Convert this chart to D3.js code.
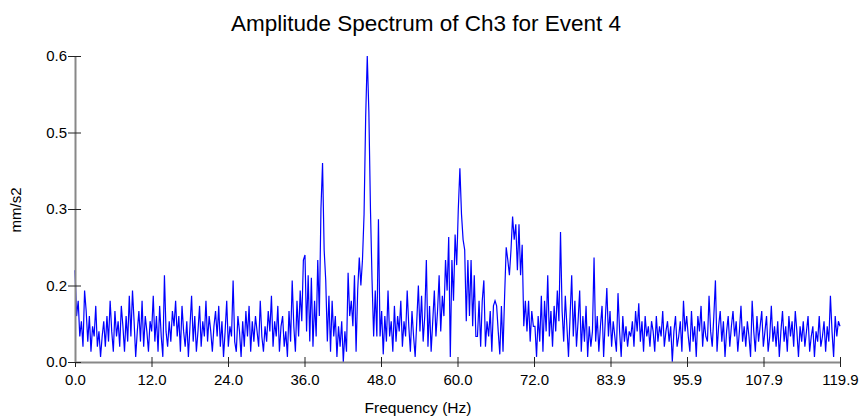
<!DOCTYPE html>
<html>
<head>
<meta charset="utf-8">
<script src="https://cdn.jsdelivr.net/npm/d3@7"></script>
<style>
  body { margin: 0; background: #fff; }
  text { font-family: "Liberation Sans", Arial, sans-serif; fill: #000; }
</style>
</head>
<body>
<div id="chart"></div>
<script>
// amplitude readings (mm/s2), one every ~0.25 Hz from 0 to 119.9 Hz
let amplitude = [
  // 0 - 12 Hz
  0.18, 0.09, 0.12, 0.05, 0.08, 0.03, 0.14, 0.10, 0.04, 0.09, 0.02, 0.07,
  0.05, 0.11, 0.03, 0.06, 0.01, 0.05, 0.08, 0.03, 0.09, 0.04, 0.12, 0.06,
  0.02, 0.10, 0.05, 0.08, 0.03, 0.11, 0.07, 0.02, 0.09, 0.04, 0.13, 0.05,
  0.14, 0.08, 0.01, 0.06, 0.10, 0.04, 0.12, 0.03, 0.09, 0.06, 0.02, 0.08,
  // 12 - 24 Hz
  0.06, 0.13, 0.04, 0.09, 0.02, 0.11, 0.05, 0.01, 0.17, 0.06, 0.03, 0.08,
  0.04, 0.10, 0.07, 0.12, 0.05, 0.09, 0.02, 0.11, 0.06, 0.03, 0.08, 0.01,
  0.07, 0.13, 0.04, 0.09, 0.02, 0.06, 0.11, 0.03, 0.08, 0.05, 0.12, 0.04,
  0.09, 0.06, 0.02, 0.07, 0.10, 0.05, 0.11, 0.03, 0.08, 0.01, 0.06, 0.12,
  // 24 - 36 Hz
  0.03, 0.07, 0.05, 0.16, 0.04, 0.02, 0.09, 0.06, 0.01, 0.08, 0.03, 0.10,
  0.05, 0.11, 0.02, 0.08, 0.04, 0.09, 0.06, 0.03, 0.12, 0.05, 0.02, 0.07,
  0.04, 0.10, 0.06, 0.13, 0.03, 0.08, 0.05, 0.11, 0.02, 0.07, 0.09, 0.03,
  0.06, 0.01, 0.10, 0.04, 0.16, 0.07, 0.02, 0.12, 0.05, 0.14, 0.08, 0.20,
  // 36 - 48 Hz
  0.21, 0.06, 0.17, 0.04, 0.165, 0.03, 0.12, 0.05, 0.20, 0.09, 0.30, 0.39,
  0.22, 0.16, 0.04, 0.13, 0.02, 0.12, 0.05, 0.09, 0.01, 0.07, 0.03, 0.08,
  0.00, 0.06, 0.02, 0.175, 0.09, 0.12, 0.07, 0.17, 0.02, 0.14, 0.205, 0.15,
  0.20, 0.29, 0.48, 0.60, 0.49, 0.30, 0.16, 0.05, 0.14, 0.05, 0.28, 0.05,
  // 48 - 60 Hz
  0.10, 0.015, 0.09, 0.04, 0.14, 0.05, 0.08, 0.02, 0.11, 0.04, 0.09, 0.06,
  0.12, 0.03, 0.08, 0.05, 0.14, 0.07, 0.02, 0.10, 0.05, 0.01, 0.08, 0.15,
  0.06, 0.13, 0.04, 0.09, 0.20, 0.03, 0.11, 0.02, 0.08, 0.14, 0.05, 0.10,
  0.17, 0.06, 0.13, 0.09, 0.20, 0.14, 0.245, 0.01, 0.20, 0.12, 0.25, 0.19,
  // 60 - 72 Hz
  0.30, 0.38, 0.29, 0.24, 0.22, 0.08, 0.20, 0.09, 0.20, 0.07, 0.17, 0.05,
  0.05, 0.12, 0.03, 0.12, 0.16, 0.03, 0.08, 0.05, 0.10, 0.02, 0.11, 0.12,
  0.11, 0.06, 0.015, 0.11, 0.02, 0.13, 0.225, 0.20, 0.17, 0.22, 0.285, 0.24,
  0.27, 0.18, 0.27, 0.17, 0.23, 0.07, 0.12, 0.06, 0.12, 0.04, 0.10, 0.07,
  // 72 - 84 Hz
  0.07, 0.01, 0.09, 0.04, 0.13, 0.02, 0.12, 0.06, 0.17, 0.05, 0.10, 0.03,
  0.11, 0.06, 0.14, 0.08, 0.255, 0.10, 0.04, 0.13, 0.07, 0.01, 0.09, 0.17,
  0.05, 0.12, 0.03, 0.08, 0.14, 0.02, 0.09, 0.04, 0.11, 0.01, 0.07, 0.03,
  0.06, 0.205, 0.04, 0.09, 0.02, 0.07, 0.11, 0.01, 0.08, 0.145, 0.05, 0.10,
  // 84 - 96 Hz
  0.03, 0.08, 0.05, 0.02, 0.135, 0.06, 0.01, 0.09, 0.04, 0.07, 0.03, 0.06,
  0.05, 0.08, 0.03, 0.10, 0.06, 0.115, 0.04, 0.08, 0.02, 0.09, 0.05, 0.07,
  0.03, 0.08, 0.06, 0.02, 0.09, 0.04, 0.07, 0.05, 0.10, 0.03, 0.06, 0.08,
  0.04, 0.07, 0.00, 0.06, 0.09, 0.03, 0.05, 0.08, 0.02, 0.12, 0.06, 0.09,
  // 96 - 108 Hz
  0.05, 0.02, 0.10, 0.04, 0.07, 0.01, 0.09, 0.06, 0.11, 0.03, 0.08, 0.05,
  0.04, 0.13, 0.06, 0.03, 0.09, 0.16, 0.02, 0.07, 0.10, 0.04, 0.08, 0.01,
  0.06, 0.09, 0.03, 0.07, 0.10, 0.05, 0.08, 0.02, 0.06, 0.11, 0.04, 0.07,
  0.03, 0.08, 0.05, 0.01, 0.12, 0.06, 0.02, 0.09, 0.04, 0.07, 0.10, 0.03,
  // 108 - 120 Hz
  0.06, 0.09, 0.02, 0.05, 0.11, 0.04, 0.07, 0.03, 0.08, 0.01, 0.06, 0.10,
  0.04, 0.07, 0.02, 0.09, 0.05, 0.08, 0.03, 0.10, 0.06, 0.01, 0.07, 0.04,
  0.08, 0.03, 0.06, 0.09, 0.02, 0.05, 0.07, 0.01, 0.06, 0.04, 0.09, 0.03,
  0.05, 0.08, 0.02, 0.07, 0.04, 0.13, 0.06, 0.01, 0.09, 0.05, 0.08, 0.07
]

let maxFreq = 119.9

let xTickValues = [0, 11.99, 23.98, 35.97, 47.96, 59.95, 71.94, 83.93, 95.92, 107.91, 119.9]
let xTickLabels = ['0.0', '12.0', '24.0', '36.0', '48.0', '60.0', '72.0', '83.9', '95.9', '107.9', '119.9']

let yTickValues = [0, 0.15, 0.3, 0.45, 0.6]
let yTickLabels = ['0.0', '0.2', '0.3', '0.5', '0.6']

let width = 863,
  height = 417

let margin = { top: 56, right: 23, bottom: 55, left: 75 }

let svg = d3.select('#chart')
  .append('svg')
  .attr('width', width)
  .attr('height', height)

let x = d3.scaleLinear()
  .domain([0, maxFreq])
  .range([margin.left, width - margin.right])

let y = d3.scaleLinear()
  .domain([0, 0.6])
  .range([height - margin.bottom, margin.top])

let step = maxFreq / (amplitude.length - 1)
let points = amplitude.map((v, i) => ({ f: i * step, v: v }))

// title
svg.append('text')
  .attr('x', 426)
  .attr('y', 31)
  .attr('text-anchor', 'middle')
  .style('font-size', '22.5px')
  .text('Amplitude Spectrum of Ch3 for Event 4')

// spectrum line
let line = d3.line()
  .x(d => x(d.f))
  .y(d => y(d.v))

svg.append('path')
  .datum(points)
  .attr('fill', 'none')
  .attr('stroke', '#0000ff')
  .attr('stroke-width', 1.2)
  .attr('d', line)

// axes
let xAxis = d3.axisBottom(x)
  .tickValues(xTickValues)
  .tickFormat((d, i) => xTickLabels[i])
  .tickSize(5)
  .tickSizeOuter(0)

let yAxis = d3.axisLeft(y)
  .tickValues(yTickValues)
  .tickFormat((d, i) => yTickLabels[i])
  .tickSize(7)
  .tickSizeOuter(0)

let gx = svg.append('g')
  .attr('transform', 'translate(0,' + (height - margin.bottom) + ')')
  .call(xAxis)

let gy = svg.append('g')
  .attr('transform', 'translate(' + margin.left + ',0)')
  .call(yAxis)

gx.select('.domain').attr('stroke', '#888').attr('stroke-width', 2)
gy.select('.domain').attr('stroke', '#888').attr('stroke-width', 2)

// ticks cross the axis line
gx.selectAll('.tick line').attr('y1', -5).attr('stroke', '#222')
gy.selectAll('.tick line').attr('x1', 6).attr('stroke', '#222')

gx.selectAll('.tick text')
  .attr('y', 12)
  .style('font-size', '15px')
  .style('font-family', '"Liberation Sans", Arial, sans-serif')
gy.selectAll('.tick text')
  .attr('x', -8)
  .style('font-size', '15px')
  .style('font-family', '"Liberation Sans", Arial, sans-serif')

// axis titles
svg.append('text')
  .attr('x', 418)
  .attr('y', 413)
  .attr('text-anchor', 'middle')
  .style('font-size', '15.5px')
  .text('Frequency (Hz)')

svg.append('text')
  .attr('transform', 'translate(21,' + 210 + ') rotate(-90)')
  .attr('text-anchor', 'middle')
  .style('font-size', '15px')
  .text('mm/s2')
</script>
</body>
</html>
